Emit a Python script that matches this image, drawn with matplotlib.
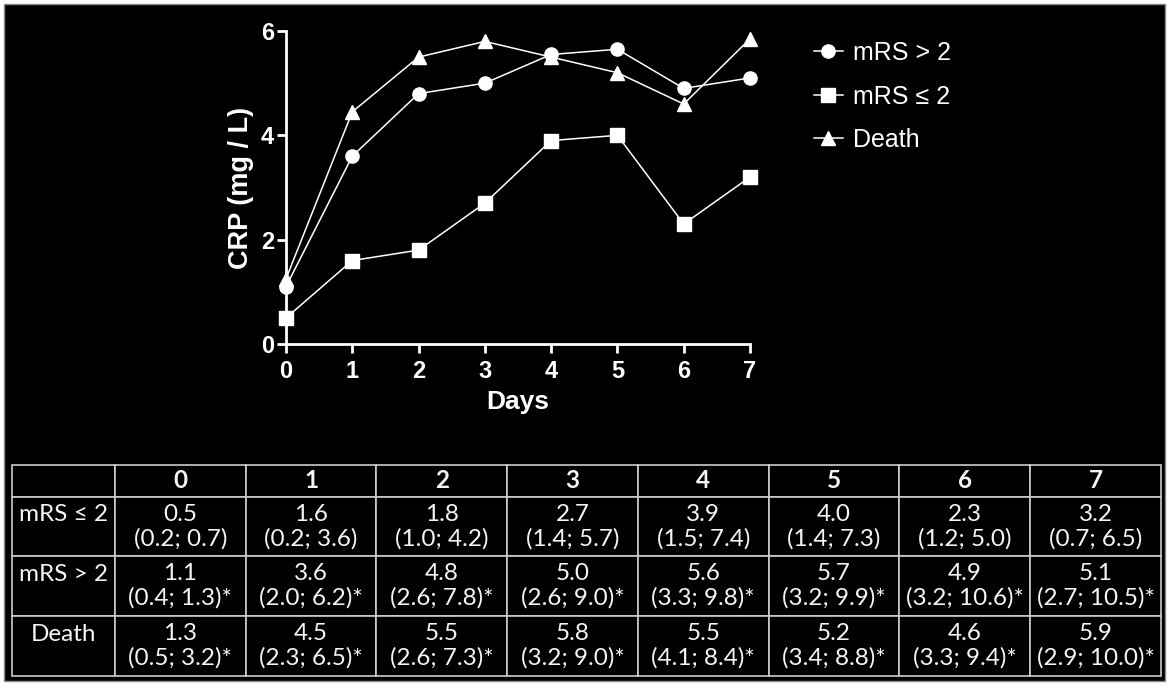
import matplotlib
matplotlib.use("Agg")
import matplotlib.pyplot as plt
from matplotlib.patches import Rectangle

# ---------------- data ----------------
days = [0, 1, 2, 3, 4, 5, 6, 7]
crp_mrs_high = [1.1, 3.6, 4.8, 5.0, 5.55, 5.65, 4.9, 5.1]   # mRS > 2 (plotted)
crp_mrs_low = [0.5, 1.6, 1.8, 2.7, 3.9, 4.0, 2.3, 3.2]      # mRS <= 2 (plotted)
crp_death = [1.25, 4.45, 5.5, 5.8, 5.5, 5.2, 4.6, 5.85]     # Death (plotted)

series_labels = ["mRS > 2", "mRS \u2264 2", "Death"]
yticks = [0, 2, 4, 6]

table_cols = ["0", "1", "2", "3", "4", "5", "6", "7"]
table_rows = ["mRS \u2264 2", "mRS > 2", "Death"]
tab_low_median = ["0.5", "1.6", "1.8", "2.7", "3.9", "4.0", "2.3", "3.2"]
tab_low_iqr = ["(0.2; 0.7)", "(0.2; 3.6)", "(1.0; 4.2)", "(1.4; 5.7)",
               "(1.5; 7.4)", "(1.4; 7.3)", "(1.2; 5.0)", "(0.7; 6.5)"]
tab_high_median = ["1.1", "3.6", "4.8", "5.0", "5.6", "5.7", "4.9", "5.1"]
tab_high_iqr = ["(0.4; 1.3)*", "(2.0; 6.2)*", "(2.6; 7.8)*", "(2.6; 9.0)*",
                "(3.3; 9.8)*", "(3.2; 9.9)*", "(3.2; 10.6)*", "(2.7; 10.5)*"]
tab_death_median = ["1.3", "4.5", "5.5", "5.8", "5.5", "5.2", "4.6", "5.9"]
tab_death_iqr = ["(0.5; 3.2)*", "(2.3; 6.5)*", "(2.6; 7.3)*", "(3.2; 9.0)*",
                 "(4.1; 8.4)*", "(3.4; 8.8)*", "(3.3; 9.4)*", "(2.9; 10.0)*"]

# ---------------- figure ----------------
W, H = 1170, 692
fig = plt.figure(figsize=(W / 100, H / 100), dpi=100, facecolor="white")

def fx(px):
    return px / W

def fy(py):
    return 1 - py / H

# black panel
fig.patches.append(Rectangle((fx(4), fy(681)), fx(1165) - fx(4), fy(4) - fy(681),
                             transform=fig.transFigure, facecolor="black",
                             edgecolor="#8a8a8a", linewidth=1.0, zorder=-5))

plot_font = ["Liberation Sans", "DejaVu Sans"]
ax = fig.add_axes([fx(286), fy(344), fx(750) - fx(286), fy(31) - fy(344)])
ax.set_facecolor("none")
ax.set_zorder(2)

lw = 1.1
ms = 9.5
l1, = ax.plot(days, crp_mrs_high, color="white", lw=lw, marker="o", ms=ms,
              clip_on=False, zorder=3, label=series_labels[0])
l2, = ax.plot(days, crp_mrs_low, color="white", lw=lw, marker="s", ms=ms,
              clip_on=False, zorder=3, label=series_labels[1])
l3, = ax.plot(days, crp_death, color="white", lw=lw, marker="^", ms=ms + 0.5,
              clip_on=False, zorder=3, label=series_labels[2])

ax.set_xlim(0, 7)
ax.set_ylim(0, 6)
ax.set_xticks(days)
ax.set_yticks(yticks)
for s in ["top", "right"]:
    ax.spines[s].set_visible(False)
for s in ["left", "bottom"]:
    ax.spines[s].set_color("white")
    ax.spines[s].set_linewidth(2.0)
ax.tick_params(colors="white", width=2.0, length=6.5, labelsize=17)
ax.tick_params(axis="x", pad=5)
ax.tick_params(axis="y", pad=2.2)
for lab in ax.get_xticklabels() + ax.get_yticklabels():
    lab.set_family(plot_font)
    lab.set_fontweight("bold")
ax.set_xlabel("Days", color="white", fontsize=19, fontweight="bold",
              family=plot_font, labelpad=5)
ax.set_ylabel("CRP (mg / L)", color="white", fontsize=19.5, fontweight="bold",
              family=plot_font, labelpad=5)

leg = fig.legend(handles=[l1, l2, l3], loc="upper left",
                 bbox_to_anchor=(fx(814), fy(41)), frameon=False,
                 prop={"family": plot_font, "size": 18},
                 handlelength=1.15, handletextpad=0.42, labelspacing=0.78,
                 borderaxespad=0, borderpad=0)
for t in leg.get_texts():
    t.set_color("white")

# ---------------- table ----------------
table_font = ["Lato", "DejaVu Sans"]
tax = fig.add_axes([fx(12), fy(676), fx(1161) - fx(12), fy(465) - fy(676)])
tax.axis("off")
tax.set_zorder(1)

cell_text = [[""] + table_cols]
row_meds = [tab_low_median, tab_high_median, tab_death_median]
row_iqrs = [tab_low_iqr, tab_high_iqr, tab_death_iqr]
for name, meds, iqrs in zip(table_rows, row_meds, row_iqrs):
    cell_text.append([name + "\n "] + [m + "\n" + q for m, q in zip(meds, iqrs)])

col_w = [103] + [131] * 8
tot_w = sum(col_w)
row_h = [32, 59, 60, 60]
tot_h = sum(row_h)

tbl = tax.table(cellText=cell_text, cellLoc="center", loc="center",
                colWidths=[w / tot_w for w in col_w], bbox=[0, 0, 1, 1])
tbl.auto_set_font_size(False)
for (r, c), cell in tbl.get_celld().items():
    cell.set_height(row_h[r] / tot_h)
    cell.set_facecolor("black")
    cell.set_edgecolor("#cccccc")
    cell.set_linewidth(1.2)
    txt = cell.get_text()
    txt.set_color("#f4f4f4")
    txt.set_fontsize(17.5)
    txt.set_family(table_font)
    txt.set_linespacing(1.17)
    if r == 0:
        txt.set_fontweight("bold")

fig.savefig("out.png", dpi=100, facecolor="white")
